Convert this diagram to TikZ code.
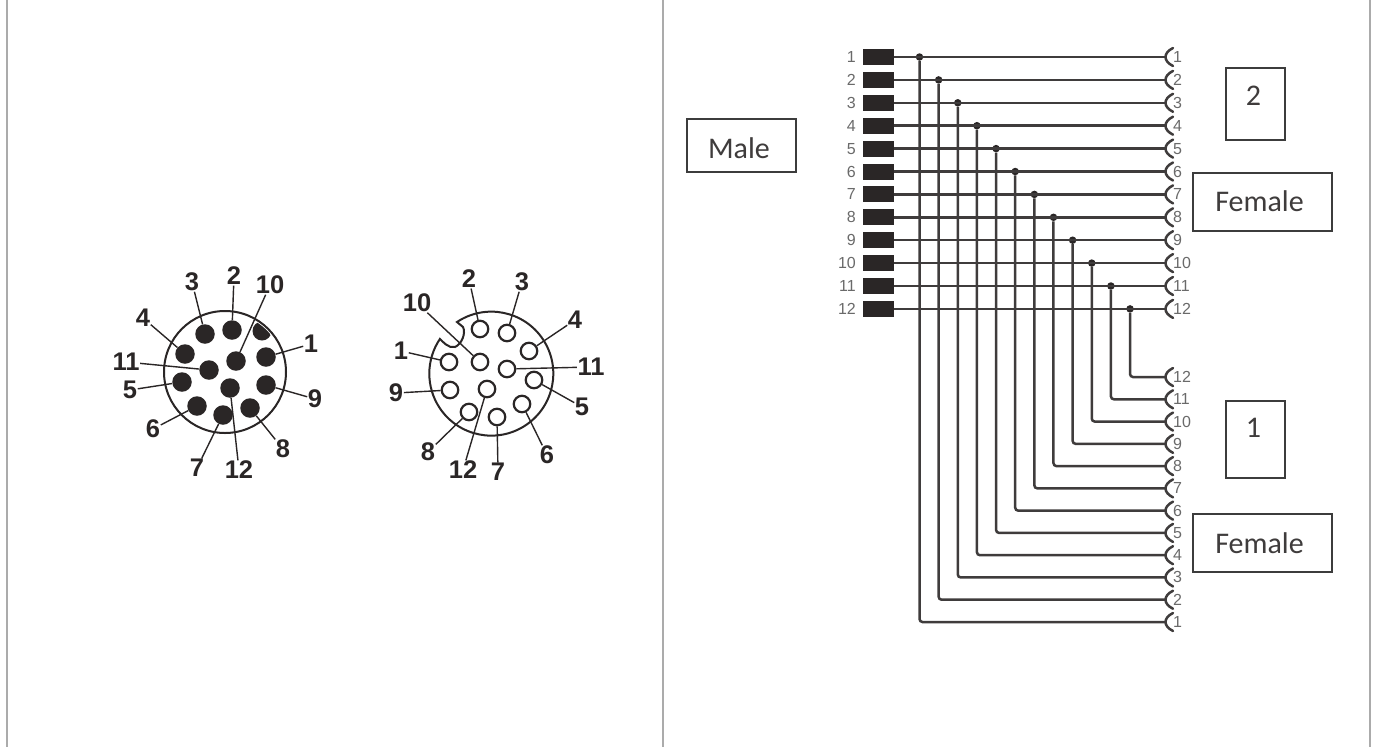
\documentclass[tikz,border=0pt]{standalone}
\usepackage{fontspec}
\setmainfont{Liberation Sans}
\newfontfamily\boxfont{Carlito}
\definecolor{ink}{HTML}{2A2626}
\definecolor{rowgray}{HTML}{6A6A6A}
\definecolor{sepgray}{HTML}{ABABAB}
\definecolor{boxline}{HTML}{3C3C3C}
\tikzset{
  lab/.style={inner sep=0.5pt,text=ink,font=\fontsize{25.5}{26}\selectfont\bfseries},
  leader/.style={draw=ink,line width=1.4pt},
  solidpin/.style={circle,fill=ink,inner sep=0pt,minimum size=19.5pt},
  openpin/.style={circle,draw=ink,fill=white,line width=2.2pt,inner sep=0pt,minimum size=16.5pt},
  shell/.style={draw=ink,line width=2pt},
  wire/.style={draw=ink!90,line width=2.5pt},
  blockpin/.style={fill=ink,inner sep=0pt,minimum width=31pt,minimum height=16pt},
  dotj/.style={circle,fill=ink,inner sep=0pt,minimum size=7.5pt},
  rowlab/.style={inner sep=0pt,text=rowgray,font=\fontsize{16}{16}\selectfont},
  capbox/.style={draw=boxline,line width=1.7pt,inner sep=0pt},
  captext/.style={inner sep=0pt,font=\boxfont\fontsize{30}{30}\selectfont,text=ink!90},
  sep/.style={draw=sepgray,line width=2pt}
}
\begin{document}
\begin{tikzpicture}[x=1pt,y=-1pt]
\useasboundingbox (0,0) rectangle (1375,747);
\fill[white] (0,0) rectangle (1375,747);
% separators
\coordinate (sa0) at (7,0); \coordinate (sa1) at (7,747);
\coordinate (sb0) at (662.5,0); \coordinate (sb1) at (662.5,747);
\coordinate (sc0) at (1370,0); \coordinate (sc1) at (1370,747);
\draw[sep] (sa0) -- (sa1); \draw[sep] (sb0) -- (sb1); \draw[sep] (sc0) -- (sc1);
% male face
\node[shell,circle,minimum size=122pt,inner sep=0pt] (mshell) at (225,372) {};
\begin{scope}
\clip (225,372) circle[radius=59pt];
\fill[ink] (262,331) circle[radius=9.5pt];
\end{scope}
\foreach \n/\x/\y/\lx/\ly in {1/266/357/311/344,2/232/330/234/276,3/205/334/192/282,4/185/354/143/318,5/182/382/130/390,6/197/406/153/429,7/223/415/197/468,8/250/408/283/449,9/266/385/315/399,10/236/361/270/285,11/209/370/126/362,12/230/388/239/470}{
  \node[solidpin] (mp\n) at (\x,\y) {};
  \node[lab] (ml\n) at (\lx,\ly) {\n};
  \draw[leader] (ml\n) -- (mp\n);
}
% female face
\draw[shell] (457,322) arc[start angle=123.6,end angle=-214,radius=62pt]
  .. controls (442,341) and (449,349) .. (455,347)
  .. controls (462,344) and (466,333) .. (463,327) -- cycle;
\foreach \n/\x/\y/\lx/\ly in {1/449/362/401/351,2/480/329/469/279,3/507/333/522/282,4/529/351/575/320,5/534/380/582/407,6/522/404/547/455,7/497/417/498/472,8/469/412/428/452,9/450/390/396/393,10/480/362/417/303,11/507/369/591/367,12/487/389/463/470}{
  \node[openpin] (fp\n) at (\x,\y) {};
  \node[lab] (fl\n) at (\lx,\ly) {\n};
  \draw[leader] (fl\n) -- (fp\n);
}
% wiring
\foreach \i in {1,...,12}{
  \pgfmathsetmacro{\ry}{57+(\i-1)*22.9}
  \pgfmathsetmacro{\vx}{919.5+(\i-1)*19.14}
  \pgfmathsetmacro{\ly}{622-(\i-1)*22.27}
  \node[blockpin] (b\i) at (878,\ry) {};
  \node[rowlab,anchor=east] (lb\i) at (856,\ry) {\i};
  \coordinate (s\i) at (1165,\ry);
  \coordinate (t\i) at (1165,\ly);
  \node[dotj] (j\i) at (\vx,\ry) {};
  \node[rowlab,anchor=west] (ls\i) at (1173,\ry) {\i};
  \node[rowlab,anchor=west] (lt\i) at (1173,\ly) {\i};
  \draw[wire] (b\i) -- (s\i);
  \draw[wire,rounded corners=3pt] (j\i) |- (t\i);
  \draw[wire,line cap=round] ([shift={(8,-9)}]s\i) .. controls ([shift={(-2,-4)}]s\i) and ([shift={(-2,4)}]s\i) .. ([shift={(8,9)}]s\i);
  \draw[wire,line cap=round] ([shift={(8,-9)}]t\i) .. controls ([shift={(-2,-4)}]t\i) and ([shift={(-2,4)}]t\i) .. ([shift={(8,9)}]t\i);
}
% captions
\node[capbox,minimum width=109pt,minimum height=53pt] (male) at (741.5,145.5) {};
\node[captext] (malet) at (739,148) {Male};
\node[capbox,minimum width=59pt,minimum height=72pt] (two) at (1255.5,104) {};
\node[captext] (twot) at (1253.5,96) {2};
\node[capbox,minimum width=139pt,minimum height=58pt] (fem2) at (1262.5,202) {};
\node[captext] (fem2t) at (1259.5,201) {Female};
\node[capbox,minimum width=59pt,minimum height=77pt] (one) at (1255.5,439.5) {};
\node[captext] (onet) at (1253.5,428) {1};
\node[capbox,minimum width=139pt,minimum height=58pt] (fem1) at (1262.5,543) {};
\node[captext] (fem1t) at (1259.5,543) {Female};
\end{tikzpicture}
\end{document}
